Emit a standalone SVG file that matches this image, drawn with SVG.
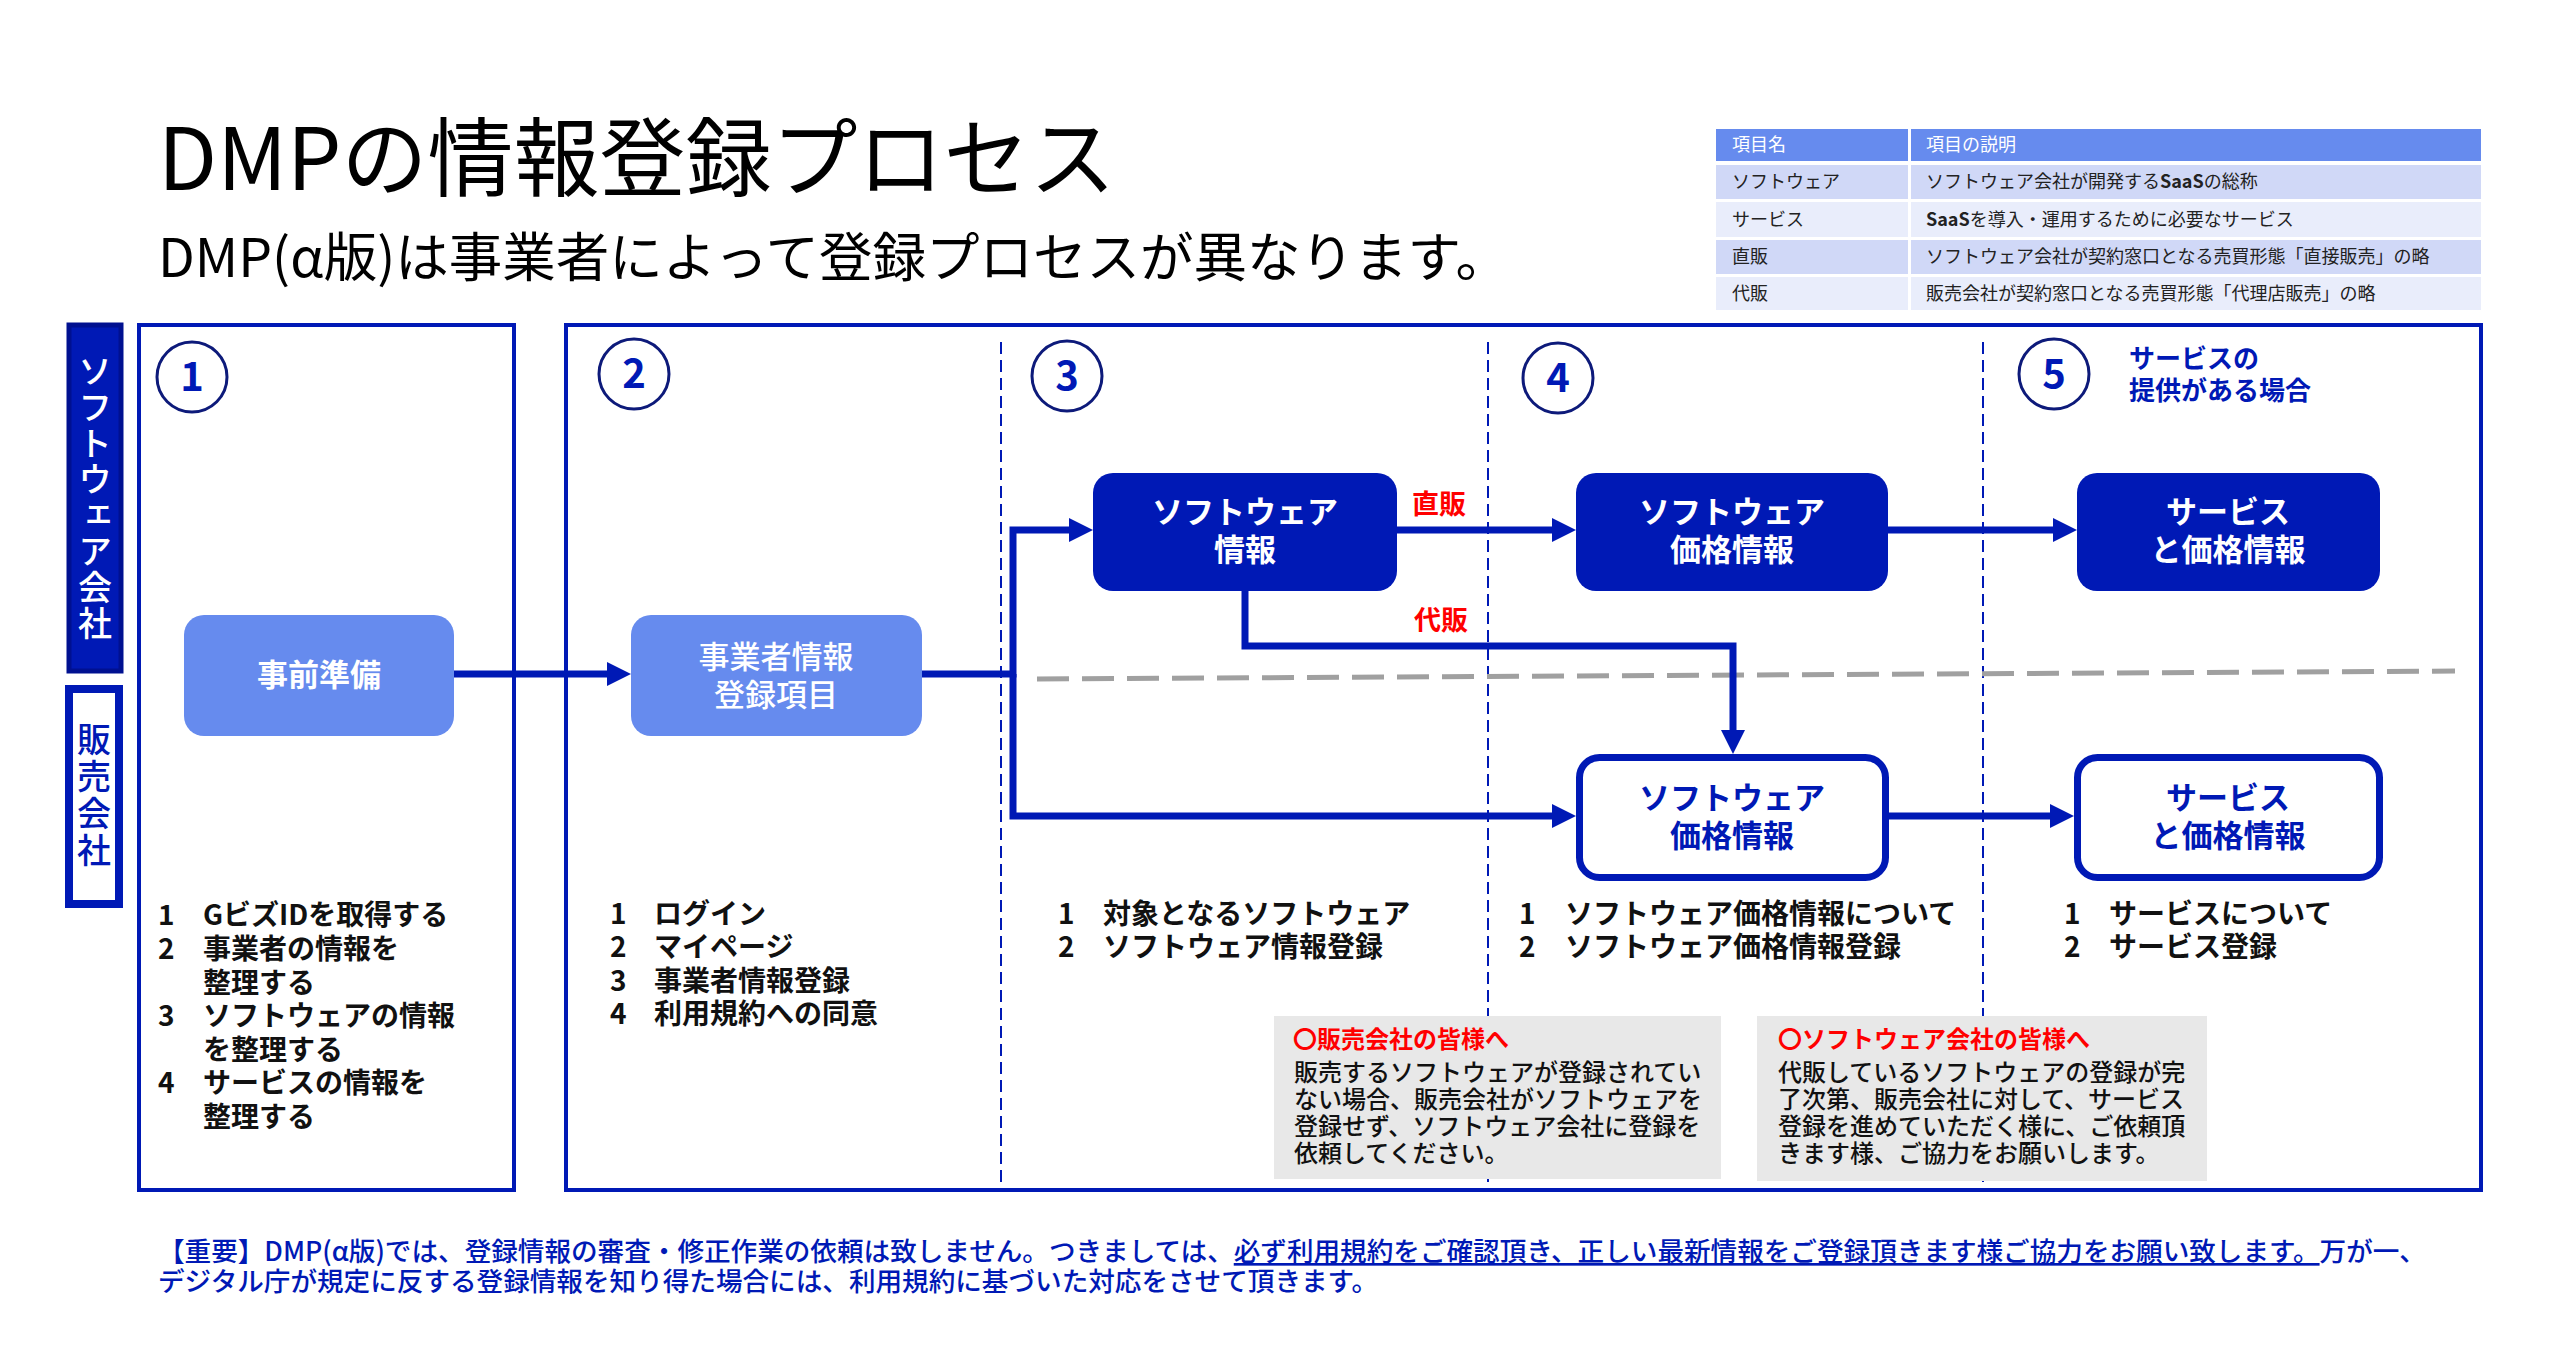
<svg xmlns="http://www.w3.org/2000/svg" width="2558" height="1362" viewBox="0 0 2558 1362">
<defs>
<style>
text{font-family:"Noto Sans CJK JP","Noto Sans",sans-serif;}
.title{font-size:86px;fill:#000;}
.sub{font-size:53.5px;fill:#000;}
.th{font-size:18px;fill:#fff;}
.td{font-size:18px;fill:#222;}
.panel{fill:none;stroke:#0019B5;stroke-width:4;}
.div{fill:none;stroke:#0019B5;stroke-width:2;stroke-dasharray:12 6;}
.circ{fill:#fff;stroke:#0D1A7A;stroke-width:3;}
.num{font-size:40px;font-weight:700;fill:#0019B5;text-anchor:middle;}
.light{fill:#668BEE;}
.dark{fill:#0019B5;}
.outl{fill:#fff;stroke:#0019B5;stroke-width:7;}
.wt{font-size:31px;font-weight:700;fill:#fff;text-anchor:middle;}
.wtr{font-size:31px;font-weight:500;fill:#fff;text-anchor:middle;}
.bt{font-size:31px;font-weight:700;fill:#0019B5;text-anchor:middle;}
.lst{font-size:28px;font-weight:700;fill:#111;}
.red{font-size:27px;font-weight:700;fill:#FF0000;text-anchor:middle;}
.note{fill:#E8E8E8;}
.nt{font-size:24px;font-weight:700;fill:#FF0000;}
.nb{font-size:24px;font-weight:500;fill:#111;}
.foot{font-size:26.6px;font-weight:500;fill:#0019B5;}
.conn{fill:none;stroke:#0019B5;stroke-width:7;}
</style>
<marker id="ah" markerUnits="userSpaceOnUse" markerWidth="24" markerHeight="24" refX="1" refY="12" orient="auto">
<path d="M0,0 L24,12 L0,24 z" fill="#0019B5"/>
</marker>
</defs>
<rect x="0" y="0" width="2558" height="1362" fill="#fff"/>

<g id="header">
<text class="title" x="158" y="190">DMPの情報登録プロセス</text>
<text class="sub" x="158" y="277">DMP(α版)は事業者によって登録プロセスが異なります。</text>
</g>

<g id="legend-table">
<rect x="1716" y="129" width="192" height="32" fill="#668BEE"/>
<rect x="1911" y="129" width="570" height="32" fill="#668BEE"/>
<rect x="1716" y="165" width="192" height="34" fill="#D0D8F7"/>
<rect x="1911" y="165" width="570" height="34" fill="#D0D8F7"/>
<rect x="1716" y="202" width="192" height="35" fill="#E9EDFB"/>
<rect x="1911" y="202" width="570" height="35" fill="#E9EDFB"/>
<rect x="1716" y="240" width="192" height="34" fill="#D0D8F7"/>
<rect x="1911" y="240" width="570" height="34" fill="#D0D8F7"/>
<rect x="1716" y="277" width="192" height="33" fill="#E9EDFB"/>
<rect x="1911" y="277" width="570" height="33" fill="#E9EDFB"/>
<text class="th" x="1732" y="151">項目名</text>
<text class="th" x="1926" y="151">項目の説明</text>
<text class="td" x="1732" y="188">ソフトウェア</text>
<text class="td" x="1926" y="188">ソフトウェア会社が開発する<tspan font-weight="700">SaaS</tspan>の総称</text>
<text class="td" x="1732" y="226">サービス</text>
<text class="td" x="1926" y="226"><tspan font-weight="700">SaaS</tspan>を導入・運用するために必要なサービス</text>
<text class="td" x="1732" y="263">直販</text>
<text class="td" x="1926" y="263">ソフトウェア会社が契約窓口となる売買形態「直接販売」の略</text>
<text class="td" x="1732" y="300">代販</text>
<text class="td" x="1926" y="300">販売会社が契約窓口となる売買形態「代理店販売」の略</text>
</g>

<g id="lane-software">
<rect x="69" y="325" width="52" height="346" fill="#0019B5" stroke="#001090" stroke-width="5"/>
<text x="95" y="498" font-size="34" font-weight="500" fill="#fff" text-anchor="middle" style="writing-mode:vertical-rl;letter-spacing:2px">ソフトウェア会社</text>
</g>
<g id="lane-reseller">
<rect x="69" y="689" width="50" height="215" fill="#fff" stroke="#0019B5" stroke-width="8"/>
<text x="94" y="796" font-size="34" font-weight="500" fill="#0019B5" text-anchor="middle" style="writing-mode:vertical-rl;letter-spacing:3px">販売会社</text>
</g>

<g id="panels">
<rect class="panel" x="139" y="325" width="375" height="865"/>
<rect class="panel" x="566" y="325" width="1915" height="865"/>
<line class="div" x1="1001" y1="342" x2="1001" y2="1188"/>
<line class="div" x1="1488" y1="342" x2="1488" y2="1188"/>
<line class="div" x1="1983" y1="342" x2="1983" y2="1188"/>
<line x1="1037" y1="679" x2="2455" y2="671" stroke="#A0A0A0" stroke-width="5" stroke-dasharray="32 13"/>
</g>

<g id="step1">
<circle class="circ" cx="192" cy="377" r="35"/>
<text class="num" x="192" y="391">1</text>
</g>
<g id="step2">
<circle class="circ" cx="634" cy="374" r="35"/>
<text class="num" x="634" y="388">2</text>
</g>
<g id="step3">
<circle class="circ" cx="1067" cy="376" r="35"/>
<text class="num" x="1067" y="390">3</text>
</g>
<g id="step4">
<circle class="circ" cx="1558" cy="378" r="35"/>
<text class="num" x="1558" y="392">4</text>
</g>
<g id="step5">
<circle class="circ" cx="2054" cy="374" r="35"/>
<text class="num" x="2054" y="388">5</text>
<text x="2129" y="368" font-size="26" font-weight="700" fill="#0019B5">サービスの</text>
<text x="2129" y="400" font-size="26" font-weight="700" fill="#0019B5">提供がある場合</text>
</g>

<g id="connectors">
<path class="conn" d="M454,674 H608" marker-end="url(#ah)"/>
<path class="conn" d="M922,674 H1013 V530 H1070" marker-end="url(#ah)"/>
<path class="conn" d="M1013,674 V816 H1553" marker-end="url(#ah)"/>
<path class="conn" d="M1397,530 H1553" marker-end="url(#ah)"/>
<path class="conn" d="M1888,530 H2054" marker-end="url(#ah)"/>
<path class="conn" d="M1245,591 V646 H1733 V731" marker-end="url(#ah)"/>
<path class="conn" d="M1889,816 H2051" marker-end="url(#ah)"/>
<text class="red" x="1439" y="514">直販</text>
<text class="red" x="1441" y="630">代販</text>
</g>

<g id="node-prep">
<rect class="light" x="184" y="615" width="270" height="121" rx="20"/>
<text class="wt" x="319" y="686">事前準備</text>
</g>
<g id="node-bizinfo">
<rect class="light" x="631" y="615" width="291" height="121" rx="20"/>
<text class="wtr" x="776" y="668">事業者情報</text>
<text class="wtr" x="776" y="706">登録項目</text>
</g>
<g id="node-swinfo">
<rect class="dark" x="1093" y="473" width="304" height="118" rx="20"/>
<text class="wt" x="1245" y="523">ソフトウェア</text>
<text class="wt" x="1245" y="561">情報</text>
</g>
<g id="node-swprice-direct">
<rect class="dark" x="1576" y="473" width="312" height="118" rx="20"/>
<text class="wt" x="1732" y="523">ソフトウェア</text>
<text class="wt" x="1732" y="561">価格情報</text>
</g>
<g id="node-service-direct">
<rect class="dark" x="2077" y="473" width="303" height="118" rx="20"/>
<text class="wt" x="2228" y="523">サービス</text>
<text class="wt" x="2228" y="561">と価格情報</text>
</g>
<g id="node-swprice-reseller">
<rect class="outl" x="1579.5" y="757.5" width="306" height="120" rx="20"/>
<text class="bt" x="1732" y="809">ソフトウェア</text>
<text class="bt" x="1732" y="847">価格情報</text>
</g>
<g id="node-service-reseller">
<rect class="outl" x="2077.5" y="757.5" width="302" height="120" rx="20"/>
<text class="bt" x="2228" y="809">サービス</text>
<text class="bt" x="2228" y="847">と価格情報</text>
</g>

<g id="list1">
<text class="lst" y="925"><tspan x="158">1</tspan><tspan x="203">GビズIDを取得する</tspan></text>
<text class="lst" y="959"><tspan x="158">2</tspan><tspan x="203">事業者の情報を</tspan></text>
<text class="lst" y="993"><tspan x="203">整理する</tspan></text>
<text class="lst" y="1026"><tspan x="158">3</tspan><tspan x="203">ソフトウェアの情報</tspan></text>
<text class="lst" y="1060"><tspan x="203">を整理する</tspan></text>
<text class="lst" y="1093"><tspan x="158">4</tspan><tspan x="203">サービスの情報を</tspan></text>
<text class="lst" y="1127"><tspan x="203">整理する</tspan></text>
</g>
<g id="list2">
<text class="lst" y="924"><tspan x="610">1</tspan><tspan x="654">ログイン</tspan></text>
<text class="lst" y="957"><tspan x="610">2</tspan><tspan x="654">マイページ</tspan></text>
<text class="lst" y="991"><tspan x="610">3</tspan><tspan x="654">事業者情報登録</tspan></text>
<text class="lst" y="1024"><tspan x="610">4</tspan><tspan x="654">利用規約への同意</tspan></text>
</g>
<g id="list3">
<text class="lst" y="924"><tspan x="1058">1</tspan><tspan x="1103">対象となるソフトウェア</tspan></text>
<text class="lst" y="957"><tspan x="1058">2</tspan><tspan x="1103">ソフトウェア情報登録</tspan></text>
</g>
<g id="list4">
<text class="lst" y="924"><tspan x="1519">1</tspan><tspan x="1565">ソフトウェア価格情報について</tspan></text>
<text class="lst" y="957"><tspan x="1519">2</tspan><tspan x="1565">ソフトウェア価格情報登録</tspan></text>
</g>
<g id="list5">
<text class="lst" y="924"><tspan x="2064">1</tspan><tspan x="2109">サービスについて</tspan></text>
<text class="lst" y="957"><tspan x="2064">2</tspan><tspan x="2109">サービス登録</tspan></text>
</g>

<g id="note-reseller">
<rect class="note" x="1274" y="1016" width="447" height="163"/>
<text class="nt" x="1293" y="1048">〇販売会社の皆様へ</text>
<text class="nb" x="1294" y="1081">販売するソフトウェアが登録されてい</text>
<text class="nb" x="1294" y="1108">ない場合、販売会社がソフトウェアを</text>
<text class="nb" x="1294" y="1135">登録せず、ソフトウェア会社に登録を</text>
<text class="nb" x="1294" y="1162">依頼してください。</text>
</g>
<g id="note-software">
<rect class="note" x="1757" y="1016" width="450" height="165"/>
<text class="nt" x="1778" y="1048">〇ソフトウェア会社の皆様へ</text>
<text class="nb" x="1778" y="1081">代販しているソフトウェアの登録が完</text>
<text class="nb" x="1778" y="1108">了次第、販売会社に対して、サービス</text>
<text class="nb" x="1778" y="1135">登録を進めていただく様に、ご依頼頂</text>
<text class="nb" x="1778" y="1162">きます様、ご協力をお願いします。</text>
</g>

<g id="footer">
<text class="foot" x="158" y="1261">【重要】DMP(α版)では、登録情報の審査・修正作業の依頼は致しません。つきましては、<tspan text-decoration="underline">必ず利用規約をご確認頂き、正しい最新情報をご登録頂きます様ご協力をお願い致します。</tspan>万が一、</text>
<text class="foot" x="158" y="1291">デジタル庁が規定に反する登録情報を知り得た場合には、利用規約に基づいた対応をさせて頂きます。</text>
</g>
</svg>
